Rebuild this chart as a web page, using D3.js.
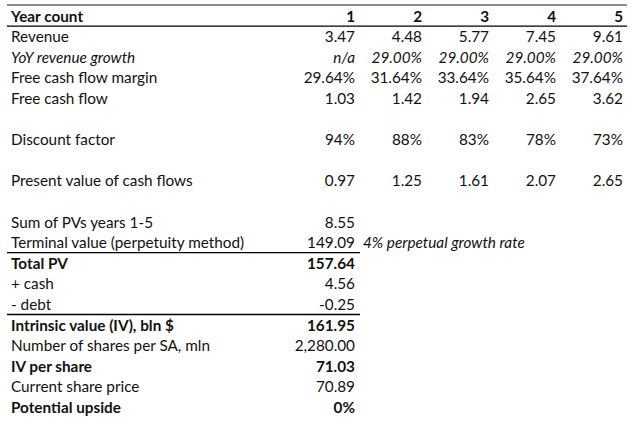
<!DOCTYPE html>
<html>
<head>
<meta charset="utf-8">
<script src="https://cdn.jsdelivr.net/npm/d3@7"></script>
<style>
    body { margin: 0; background: #fff; }
    svg { display: block; }
</style>
</head>
<body>
<div id="chart"></div>
<script>
// table values
const years = [1, 2, 3, 4, 5];
const revenue = [3.47, 4.48, 5.77, 7.45, 9.61];
const revenueGrowth = [null, 29.00, 29.00, 29.00, 29.00];
const fcfMargin = [29.64, 31.64, 33.64, 35.64, 37.64];
const freeCashFlow = [1.03, 1.42, 1.94, 2.65, 3.62];
const discountFactor = [94, 88, 83, 78, 73];
const presentValue = [0.97, 1.25, 1.61, 2.07, 2.65];

const summaryLabels = [
    "Sum of PVs years 1-5",
    "Terminal value (perpetuity method)",
    "Total PV",
    "+ cash",
    "- debt",
    "Intrinsic value (IV), bln $",
    "Number of shares per SA, mln",
    "IV per share",
    "Current share price",
    "Potential upside"
];
const summaryValues = [8.55, 149.09, 157.64, 4.56, -0.25, 161.95, 2280.00, 71.03, 70.89, 0];
const summaryBold = [false, false, true, false, false, true, false, true, false, true];
const terminalNote = "4% perpetual growth rate";

const width = 640, height = 425;
// plain hyphen for negatives, like the spreadsheet
const locale = d3.formatLocale({ decimal: ".", thousands: ",", grouping: [3], currency: ["$", ""], minus: "-" });
const fmt2 = locale.format(",.2f");
const pct2 = v => v == null ? "n/a" : locale.format(".2f")(v) + "%";
const pct0 = v => locale.format(".0f")(v) + "%";

// build the rows: label, values, style
const rows = [
    { label: "Year count", values: years.map(String), bold: true },
    { label: "Revenue", values: revenue.map(fmt2) },
    { label: "YoY revenue growth", values: revenueGrowth.map(pct2), italic: true },
    { label: "Free cash flow margin", values: fcfMargin.map(pct2) },
    { label: "Free cash flow", values: freeCashFlow.map(fmt2) },
    { label: "", values: [] },
    { label: "Discount factor", values: discountFactor.map(pct0) },
    { label: "", values: [] },
    { label: "Present value of cash flows", values: presentValue.map(fmt2) },
    { label: "", values: [] }
];
summaryLabels.forEach((l, i) => {
    const v = summaryValues[i];
    const txt = l === "Potential upside" ? pct0(v) : fmt2(v);
    rows.push({ label: l, values: [txt], bold: summaryBold[i] });
});

const svg = d3.select("#chart").append("svg")
    .attr("width", width)
    .attr("height", height);

// row positions
const y = d3.scaleBand()
    .domain(d3.range(rows.length))
    .range([6, 418]);

// right edge of each year column
const x = d3.scaleLinear()
    .domain([1, 5])
    .range([355, 623]);

const labelX = 11;
const font = "Lato, 'Open Sans', sans-serif";
const fontSize = "15.3px";

// top border
svg.append("line")
    .attr("x1", 7).attr("x2", 627)
    .attr("y1", 5).attr("y2", 5)
    .attr("stroke", "#8a8a8a")
    .attr("stroke-width", 2);

// line under header
svg.append("line")
    .attr("x1", 7).attr("x2", 627)
    .attr("y1", y(1) - 0.5).attr("y2", y(1) - 0.5)
    .attr("stroke", "#000")
    .attr("stroke-width", 1.3);

// lines above the bold totals
[summaryLabels.indexOf("Total PV"), summaryLabels.indexOf("Intrinsic value (IV), bln $")]
    .forEach(i => {
        const yy = y(10 + i) - 0.5;
        svg.append("line")
            .attr("x1", 7).attr("x2", 360)
            .attr("y1", yy).attr("y2", yy)
            .attr("stroke", "#000")
            .attr("stroke-width", 1.3);
    });

const g = svg.selectAll("g.row")
    .data(rows)
    .enter()
    .append("g")
    .attr("class", "row")
    .attr("transform", (d, i) => `translate(0,${y(i) + y.bandwidth() / 2})`)
    .style("font-family", font)
    .style("font-size", fontSize)
    .style("font-weight", d => d.bold ? "bold" : "normal")
    .style("font-style", d => d.italic ? "italic" : "normal")
    .attr("fill", "#111");

g.append("text")
    .attr("x", labelX)
    .attr("dy", "0.35em")
    .text(d => d.label);

g.selectAll("text.val")
    .data(d => d.values)
    .enter()
    .append("text")
    .attr("class", "val")
    .attr("x", (d, i) => x(i + 1))
    .attr("dy", "0.35em")
    .attr("text-anchor", "end")
    .text(d => d);

// note next to terminal value
const termRow = 10 + summaryLabels.indexOf("Terminal value (perpetuity method)");
svg.append("text")
    .attr("x", 363)
    .attr("y", y(termRow) + y.bandwidth() / 2)
    .attr("dy", "0.35em")
    .attr("fill", "#111")
    .style("font-family", font)
    .style("font-size", fontSize)
    .style("font-style", "italic")
    .text(terminalNote);
</script>
</body>
</html>
